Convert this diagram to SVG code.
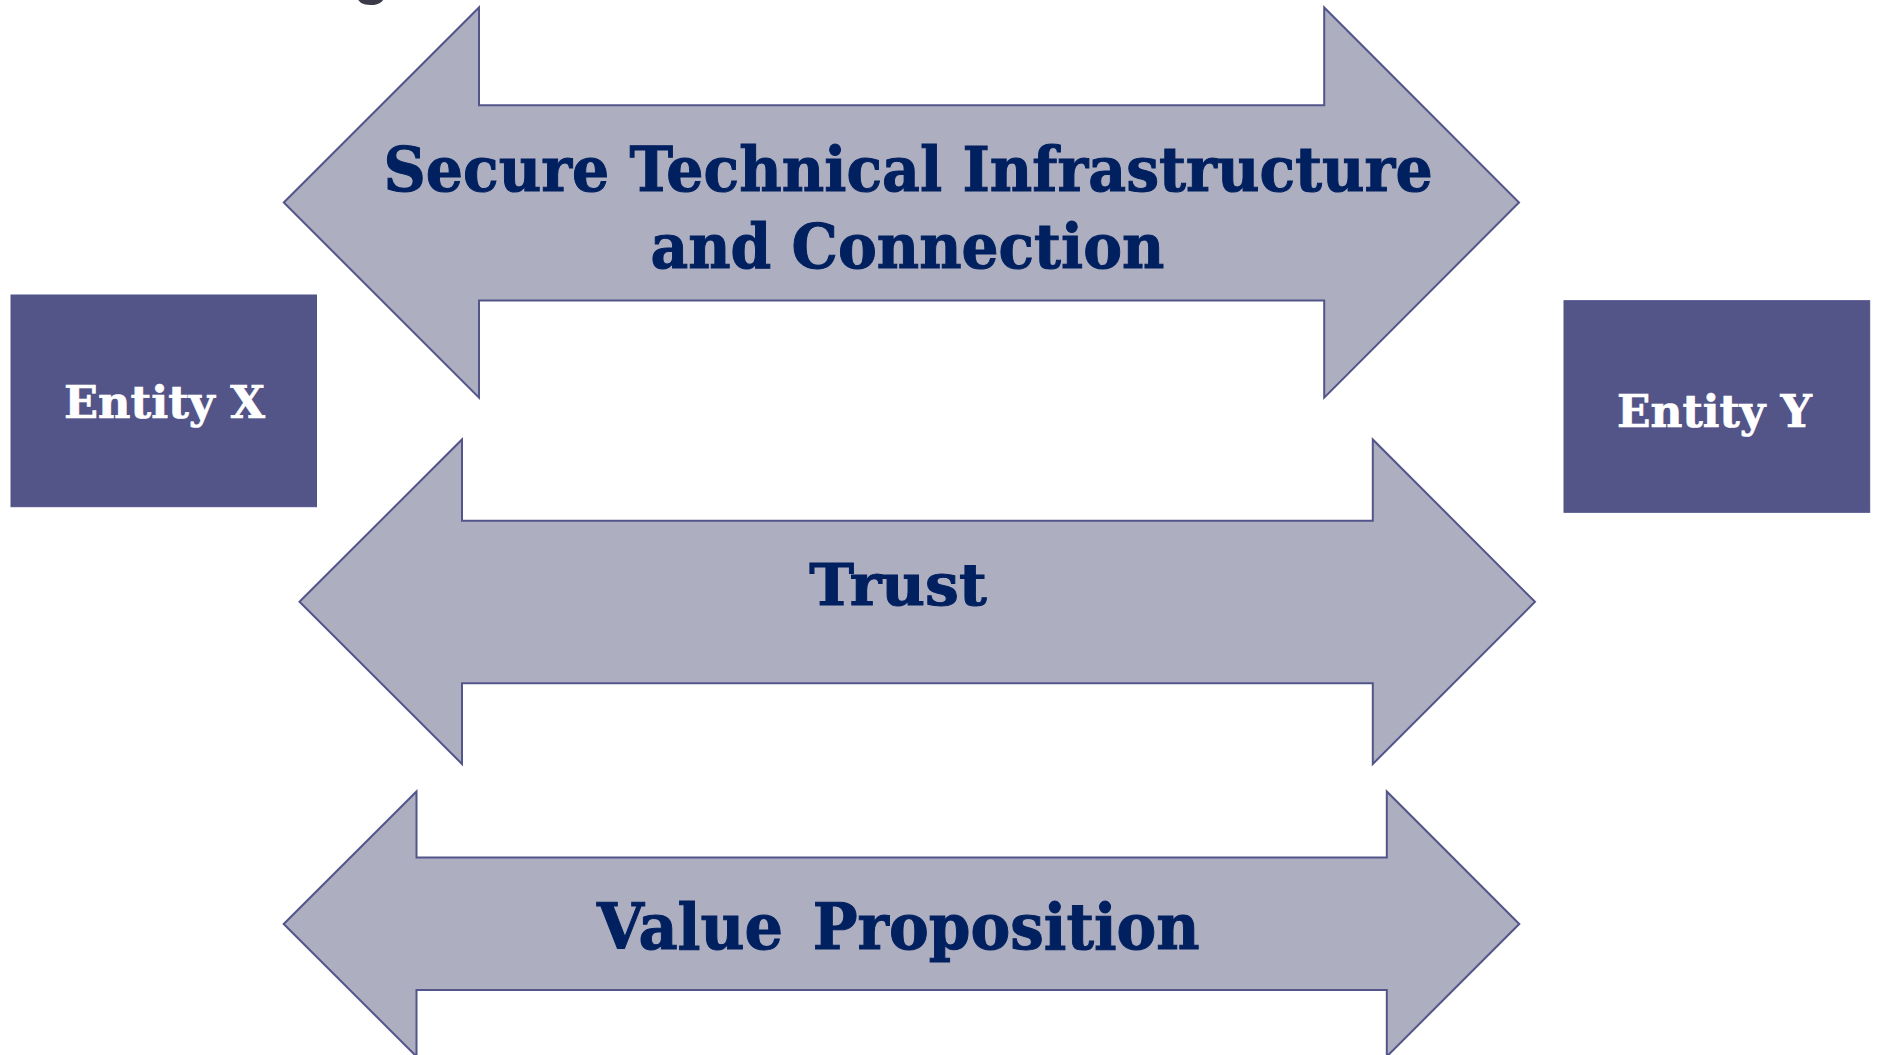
<svg xmlns="http://www.w3.org/2000/svg" width="1877" height="1055" viewBox="0 0 1877 1055">
<style>
.arrow{fill:#ADAEC0;stroke:#53558A;stroke-width:2;stroke-linejoin:miter}
.box{fill:#535487;stroke:#50528A;stroke-width:1}
.lbl{font-family:"DejaVu Serif","Liberation Serif",serif;font-weight:bold;fill:#002060;stroke:#002060;stroke-width:1}
.ent{font-family:"DejaVu Serif","Liberation Serif",serif;font-weight:bold;fill:#FFFFFF;stroke:#FFFFFF;stroke-width:0.7;font-size:45px}
.ttl{font-family:"Liberation Sans",Arial,sans-serif;font-weight:bold;fill:#3A3A48;font-size:60px}
</style>
<rect width="1877" height="1055" fill="#FFFFFF"/>
<text class="ttl" x="353" y="-7">g</text>
<g id="connectors">
<g id="arrow-infrastructure">
<polygon class="arrow" points="283.8,202.5 479,7.5 479,105.3 1324.2,105.3 1324.2,7.5 1519,202.5 1324.2,397.7 1324.2,300.5 479,300.5 479,397.7"/>
<text class="lbl" font-size="62" x="383.6" y="191" textLength="1049" lengthAdjust="spacingAndGlyphs">Secure Technical Infrastructure</text>
<text class="lbl" font-size="62" x="650.4" y="268.3" textLength="514" lengthAdjust="spacingAndGlyphs">and Connection</text>
</g>
<g id="arrow-trust">
<polygon class="arrow" points="299.5,601.8 462,439.5 462,520.7 1372.8,520.7 1372.8,439.5 1535,601.8 1372.8,764 1372.8,683.3 462,683.3 462,764"/>
<text class="lbl" font-size="58" x="809.3" y="605" textLength="177.4" lengthAdjust="spacingAndGlyphs">Trust</text>
</g>
<g id="arrow-value">
<polygon class="arrow" points="283.7,924 416.5,791.5 416.5,857.5 1386.8,857.5 1386.8,791.5 1519.3,924 1386.8,1056.5 1386.8,990 416.5,990 416.5,1056.5"/>
<text class="lbl" font-size="64" y="949.3"><tspan x="597" textLength="186" lengthAdjust="spacingAndGlyphs">Value</tspan> <tspan x="812.7" textLength="387" lengthAdjust="spacingAndGlyphs">Proposition</tspan></text>
</g>
</g>
<g id="entity-x">
<rect class="box" x="11" y="295" width="305.5" height="211.7"/>
<text class="ent" x="64" y="418.3" textLength="201" lengthAdjust="spacingAndGlyphs">Entity X</text>
</g>
<g id="entity-y">
<rect class="box" x="1564" y="300.7" width="305.7" height="211.6"/>
<text class="ent" x="1617" y="426.7" textLength="195" lengthAdjust="spacingAndGlyphs">Entity Y</text>
</g>
</svg>
